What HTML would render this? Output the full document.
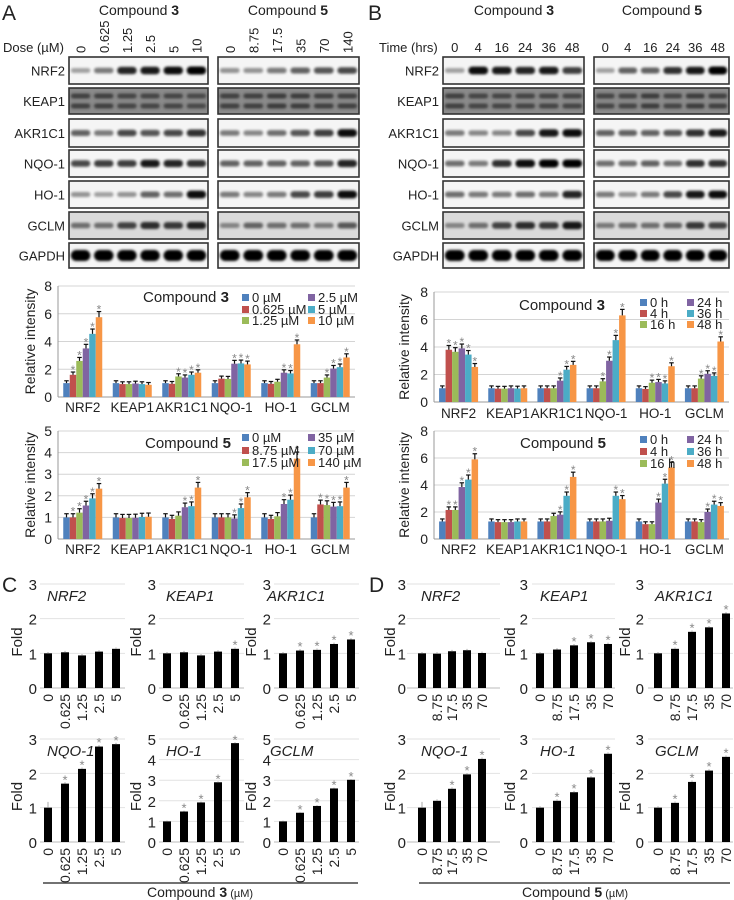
<!DOCTYPE html>
<html><head><meta charset="utf-8"><style>
html,body{margin:0;padding:0;background:#fff;}
svg{display:block;font-family:"Liberation Sans",Arial,sans-serif;}
</style></head><body>
<svg id="fig" width="734" height="900" viewBox="0 0 734 900" xmlns="http://www.w3.org/2000/svg">
<defs><filter id="blur" x="-20%" y="-50%" width="140%" height="200%"><feGaussianBlur stdDeviation="1.4"/></filter></defs>
</svg>
<script>
// ---------- DATA ----------
const genes = ['NRF2','KEAP1','AKR1C1','NQO-1','HO-1','GCLM'];
const blotRows = ['NRF2','KEAP1','AKR1C1','NQO-1','HO-1','GCLM','GAPDH'];
const doses3 = ['0','0.625','1.25','2.5','5','10'];
const doses5 = ['0','8.75','17.5','35','70','140'];
const times = ['0','4','16','24','36','48'];
const legendA3 = ['0 µM','0.625 µM','1.25 µM','2.5 µM','5 µM','10 µM'];
const legendA5 = ['0 µM','8.75 µM','17.5 µM','35 µM','70 µM','140 µM'];
const legendB = ['0 h','4 h','16 h','24 h','36 h','48 h'];
const ticksA3 = [0,2,4,6,8];
const ticksA5 = [0,1,2,3,4,5];
const ticksB = [0,2,4,6,8];
const aTopVals = [[1,1.6,2.6,3.5,4.55,5.75],[1,0.93,0.93,0.97,0.93,0.88],[1,0.95,1.48,1.4,1.6,1.75],[1,1.32,1.3,2.4,2.42,2.35],[1,0.95,1.1,1.75,1.7,3.8],[1,1,1.4,2.05,2.15,2.85]];
const aBotVals = [[1,1,1.22,1.55,1.88,2.33],[1,0.97,0.97,0.98,1.02,1.03],[1,0.93,1.08,1.47,1.52,2.38],[1,1,1,0.95,1.43,1.93],[1,0.93,1.05,1.62,1.82,3.72],[1,1.6,1.57,1.5,1.52,2.38]];
const bTopVals = [[1,3.8,3.65,3.9,3.45,2.55],[1,0.97,0.97,1,0.98,1],[1,1,1,1.55,2.35,2.7],[1,1,1.5,3,4.5,6.3],[1,0.95,1.4,1.45,1.35,2.6],[1,1,1.7,2.05,1.9,4.4]];
const bBotVals = [[1.3,2.15,2.15,3.85,4.4,5.9],[1.3,1.25,1.25,1.25,1.3,1.3],[1.3,1.3,1.7,1.8,3.2,4.6],[1.3,1.3,1.3,1.35,3.2,2.95],[1.3,1.1,1.1,2.7,4.1,5.3],[1.3,1.3,1.25,2,2.55,2.45]];
const aTopStars = [[1,2,3,4,5],[],[2,3,4,5],[3,4,5],[3,4,5],[2,3,4,5]];
const aBotStars = [[1,2,3,4,5],[],[3,4,5],[3,4,5],[3,4,5],[1,2,3,4,5]];
const bTopStars = [[1,2,3,4,5],[],[3,4,5],[2,3,4,5],[2,3,4,5],[2,3,4,5]];
const bBotStars = [[1,2,3,4,5],[],[3,4,5],[4,5],[3,4,5],[3,4,5]];
const cLabels = ['0','0.625','1.25','2.5','5'];
const dLabels = ['0','8.75','17.5','35','70'];
const cVals = [[1,1.03,0.94,1.05,1.13],[1,1.03,0.94,1.05,1.13],[1,1.08,1.1,1.27,1.4],[1,1.7,2.13,2.78,2.85],[1,1.48,1.92,2.9,4.8],[1,1.42,1.75,2.6,3.02]];
const dVals = [[1,0.99,1.06,1.09,1.01],[1,1.11,1.23,1.32,1.27],[1,1.13,1.62,1.75,2.15],[1,1.2,1.55,1.97,2.42],[1,1.2,1.45,1.88,2.57],[1,1.14,1.75,2.08,2.48]];
const cStars = [[],[4],[1,2,3,4],[1,2,3,4],[1,2,3,4],[1,2,3,4]];
const dStars = [[],[2,3,4],[1,2,3,4],[2,3,4],[1,2,3,4],[1,2,3,4]];
const cMax = [3,3,3,3,5,5];
const dMax = [3,3,3,3,3,3];
const blotA3 = [[.35,.5,.85,.9,.95,1],[.8,.8,.75,.75,.75,.7],[.6,.5,.7,.65,.7,.8],[.7,.75,.75,.9,.85,.8],[.4,.35,.4,.6,.55,.95],[.5,.5,.7,.8,.75,.85],[1,1,1,1,1,1]];
const blotA5 = [[.4,.4,.5,.6,.65,.7],[.8,.8,.85,.85,.8,.8],[.5,.45,.55,.65,.75,.95],[.6,.6,.6,.6,.65,.85],[.5,.45,.5,.7,.75,.95],[.4,.55,.5,.5,.45,.6],[1,1,1,1,1,1]];
const blotB3 = [[.35,.95,.9,.85,.9,.75],[.8,.75,.75,.75,.75,.75],[.5,.45,.45,.7,.9,.95],[.55,.5,.8,.95,1,1],[.55,.5,.5,.55,.5,.85],[.4,.5,.7,.8,.75,.9],[1,1,1,1,1,1]];
const blotB5 = [[.35,.6,.6,.8,.9,1],[.75,.75,.85,.75,.85,.8],[.6,.6,.6,.65,.8,.9],[.55,.55,.6,.55,.8,.8],[.5,.4,.5,.7,.9,.95],[.45,.5,.5,.55,.75,.7],[1,1,1,1,1,1]];

// ---------- HELPERS ----------
const NS='http://www.w3.org/2000/svg';
const root=document.getElementById('fig');
const COLORS=['#4F81BD','#C0504D','#9BBB59','#8064A2','#4BACC6','#F79646'];
function mk(tag,parent){const e=document.createElementNS(NS,tag);(parent||root).appendChild(e);return e;}
function txt(parent,x,y,s,size,anchor,extra){const t=mk('text',parent);t.setAttribute('x',x);t.setAttribute('y',y);t.setAttribute('font-size',size);t.setAttribute('text-anchor',anchor||'start');t.setAttribute('fill','#222');if(extra)for(const k in extra)t.setAttribute(k,extra[k]);t.textContent=s;return t;}
function line(parent,x1,y1,x2,y2,stroke,w){const l=mk('line',parent);l.setAttribute('x1',x1);l.setAttribute('y1',y1);l.setAttribute('x2',x2);l.setAttribute('y2',y2);l.setAttribute('stroke',stroke);l.setAttribute('stroke-width',w);return l;}
function rect(parent,x,y,w,h,fill){const r=mk('rect',parent);r.setAttribute('x',x);r.setAttribute('y',y);r.setAttribute('width',w);r.setAttribute('height',h);r.setAttribute('fill',fill);return r;}

[['A',2,20],['B',368,20],['C',2,592],['D',369,592]].forEach(p=>{
  const t=txt(root,p[1],p[2],p[0],21,'start');
  
  
});

// ---------- BLOTS ----------
const rowY=[[57,84],[88,114],[119,147],[150,177],[181,208],[212,239],[243,268]];
function compTitle(cx,y,num){
  const t=txt(root,cx,y,'Compound ',14,'middle');
  const b=mk('tspan',t);b.setAttribute('font-weight','bold');b.textContent=num;
  
  
}
function blotBox(x0,x1,data,name){
  const g=mk('g');
  
  
  const lw=(x1-x0)/6;
  rowY.forEach((ry,ri)=>{
    const bg = ri===1?'#8a8a8a':(ri===5?'#dadada':'#f5f5f5');
    const r=rect(g,x0,ry[0],x1-x0,ry[1]-ry[0],bg);
    r.setAttribute('stroke','#333');r.setAttribute('stroke-width','1.6');
    
    
    const mid=(ry[0]+ry[1])/2;
    data[ri].forEach((v,li)=>{
      const cx=x0+lw*(li+0.5);
      const bands = ri===1?[mid-5,mid+5]:[mid];
      bands.forEach(by=>{
        const h = ri===6?11:(ri===1?5:3+v*5);
        const b=rect(g,cx-lw*0.42,by-h/2,lw*0.84,h,ri===1?'#222':'#000');
        b.setAttribute('rx',h/2);
        b.setAttribute('opacity',ri===1?v*0.9:v);
        b.setAttribute('filter','url(#blur)');
        
        
      });
    });
  });
}
function rowLabels(xr){
  rowY.forEach((ry,ri)=>{
    const t=txt(root,xr,(ry[0]+ry[1])/2+5,blotRows[ri],13,'end');
    
    
  });
}
compTitle(139,15,'3');compTitle(288,15,'5');
const dl=txt(root,3,52,'Dose (µM)',13,'start');


function rotLabels(x0,x1,labels,yEnd){
  const lw=(x1-x0)/6;
  labels.forEach((s,i)=>{
    const cx=x0+lw*(i+0.5)+5;
    const t=txt(root,cx,yEnd,s,13,'start',{transform:'rotate(-90 '+cx+' '+yEnd+')'});
    
    
  });
}
rotLabels(69,208,doses3,53);rotLabels(218,359,doses5,53);
blotBox(69,208,blotA3,'blot-a-compound-3');blotBox(218,359,blotA5,'blot-a-compound-5');
rowLabels(65);
compTitle(514,15,'3');compTitle(662,15,'5');
const tl=txt(root,379,52,'Time (hrs)',13,'start');


function hLabels(x0,x1,labels){
  const lw=(x1-x0)/6;
  labels.forEach((s,i)=>{
    const t=txt(root,x0+lw*(i+0.5),52,s,13,'middle');
    
    
  });
}
hLabels(443,584,times);hLabels(594,729,times);
blotBox(443,584,blotB3,'blot-b-compound-3');blotBox(594,729,blotB5,'blot-b-compound-5');
rowLabels(439);

// ---------- GROUPED BAR CHARTS ----------
function grouped(o){
  const g=mk('g');
  
  
  const ys=v=>o.y0-v/o.ymax*(o.y0-o.yTop);
  o.ticks.forEach(t=>{
    line(g,o.x0,ys(t),o.x1,ys(t),t===0?'#999':'#d4d4d4',1);
    const tt=txt(g,o.x0-6,ys(t)+5,String(t),14,'end');
    
    
  });
  line(g,o.x0,o.y0,o.x0,o.yTop,'#999',1);
  const yt=txt(g,o.ytx,(o.y0+o.yTop)/2,'Relative intensity',14,'middle',{transform:'rotate(-90 '+o.ytx+' '+(o.y0+o.yTop)/2+')'});
  
  
  const gw=(o.x1-o.x0)/6,bw=6.5;
  genes.forEach((gn,gi)=>{
    const cx=o.x0+gw*(gi+0.5);
    const cl=txt(g,cx,o.labY,gn,13.5,'middle');
    
    
    o.vals[gi].forEach((v,si)=>{
      const bx=cx-3*bw+si*bw;
      const r=rect(g,bx,ys(v),bw,o.y0-ys(v),COLORS[si]);
      
      
      const e=0.12+v*0.05;
      const et=ys(v+e);
      line(g,bx+bw/2,ys(v),bx+bw/2,et,'#111',1.2);
      line(g,bx+1,et,bx+bw-1,et,'#111',1.2);
      if(o.stars[gi].includes(si)){
        const s=txt(g,bx+bw/2,et+2,'*',12,'middle',{fill:'#888'});
        
        
      }
    });
  });
  const tt=txt(g,o.tx,o.ty,'Compound ',15,'start');
  const b=mk('tspan',tt);b.setAttribute('font-weight','bold');b.textContent=o.num;
  
  
  o.legend.forEach((s,i)=>{
    const lx=i<3?o.lx1:o.lx2, ly=o.ly[i%3];
    const lg=mk('g',g);
    
    
    rect(lg,lx,ly-4,7,7,COLORS[i]);
    txt(lg,lx+10,ly+4,s,13,'start');
  });
}
grouped({name:'chart-a-compound-3',x0:58,x1:355,y0:397,yTop:286,ymax:8,ticks:ticksA3,vals:aTopVals,stars:aTopStars,labY:412,ytx:35,tx:143,ty:302,num:'3',legend:legendA3,lx1:242,lx2:308,ly:[298,310,321]});
grouped({name:'chart-a-compound-5',x0:58,x1:355,y0:539,yTop:431,ymax:5,ticks:ticksA5,vals:aBotVals,stars:aBotStars,labY:554,ytx:35,tx:145,ty:448,num:'5',legend:legendA5,lx1:242,lx2:308,ly:[438,451,463]});
grouped({name:'chart-b-compound-3',x0:434,x1:729,y0:402,yTop:292,ymax:8,ticks:ticksB,vals:bTopVals,stars:bTopStars,labY:418,ytx:409,tx:519,ty:310,num:'3',legend:legendB,lx1:640,lx2:687,ly:[303,314,325]});
grouped({name:'chart-b-compound-5',x0:434,x1:729,y0:539,yTop:431,ymax:8,ticks:ticksB,vals:bBotVals,stars:bBotStars,labY:554,ytx:409,tx:520,ty:448,num:'5',legend:legendB,lx1:640,lx2:687,ly:[440,452,464]});

// ---------- SMALL qPCR CHARTS ----------
function small(o){
  const g=mk('g');
  
  
  const ys=v=>o.y0-v/o.ymax*(o.y0-o.yTop);
  for(let t=0;t<=o.ymax;t++){
    line(g,o.gx0,ys(t),o.gx1,ys(t),t===0?'#bbb':'#e2e2e2',1);
    const tt=txt(g,o.tickX,ys(t)+6,String(t),15,'end');
    
    
  }
  const fy=(o.y0+o.yTop)/2+6;
  const ft=txt(g,o.foldX,fy,'Fold',15,'middle',{transform:'rotate(-90 '+o.foldX+' '+fy+')'});
  
  
  const gt=txt(g,o.geneX,o.yTop+17,o.gene,15,'start',{'font-style':'italic'});
  
  
  o.vals.forEach((v,i)=>{
    const cx=o.bx+i*o.step;
    const r=rect(g,cx-4,ys(v),8,o.y0-ys(v),'#000');
    
    
    const et=ys(v+0.04+(i===0&&o.gene==='NQO-1'?0.13:0));
    line(g,cx,ys(v),cx,et,'#aaa',1);
    if(o.stars.includes(i)){
      const s=txt(g,cx,et+2,'*',13,'middle',{fill:'#888'});
      
      
    }
    const lx=cx+5,ly=o.y0+6;
    const l=txt(g,lx,ly,o.labels[i],14,'end',{transform:'rotate(-90 '+lx+' '+ly+')'});
    
    
  });
}
const cCharts=[{off:0,geneX:47,bx:48,step:17},{off:119,geneX:166,bx:167,step:17},{off:234,geneX:267,bx:283,step:17}];
const dCharts=[{gx0:407,gx1:500,tickX:406,foldX:395,geneX:421,bx:422,step:15},{gx0:532,gx1:615,tickX:528,foldX:515,geneX:540,bx:540,step:17},{gx0:648,gx1:733,tickX:644,foldX:630,geneX:655,bx:658,step:17}];
const rows=[{y0:688,yTop:584},{y0:842,yTop:739}];
for(let i=0;i<6;i++){
  const r=rows[Math.floor(i/3)],c=cCharts[i%3],d=dCharts[i%3];
  small({name:'chart-c-'+genes[i].toLowerCase(),gene:genes[i],y0:r.y0,yTop:r.yTop,ymax:cMax[i],gx0:40+c.off,gx1:125+c.off,tickX:37+c.off,foldX:22+c.off,geneX:c.geneX+(i===5?3:0),bx:c.bx,step:c.step,vals:cVals[i],stars:cStars[i],labels:cLabels});
  small({name:'chart-d-'+genes[i].toLowerCase(),gene:genes[i],y0:r.y0,yTop:r.yTop,ymax:dMax[i],gx0:d.gx0,gx1:d.gx1,tickX:d.tickX,foldX:d.foldX,geneX:d.geneX,bx:d.bx,step:d.step,vals:dVals[i],stars:dStars[i],labels:dLabels});
}
const cl=line(root,43,883,358,883,'#444',1.5);


const dl2=line(root,419,883,730,883,'#444',1.5);


function xTitle(cx,num,name){
  const t=txt(root,cx,897,'Compound ',14,'middle');
  const b=mk('tspan',t);b.setAttribute('font-weight','bold');b.textContent=num;
  const u=mk('tspan',t);u.setAttribute('font-size','11');u.textContent=' (µM)';
  
  
}
xTitle(200,'3','c-x-axis-title');xTitle(575,'5','d-x-axis-title');
</script>
</body></html>
